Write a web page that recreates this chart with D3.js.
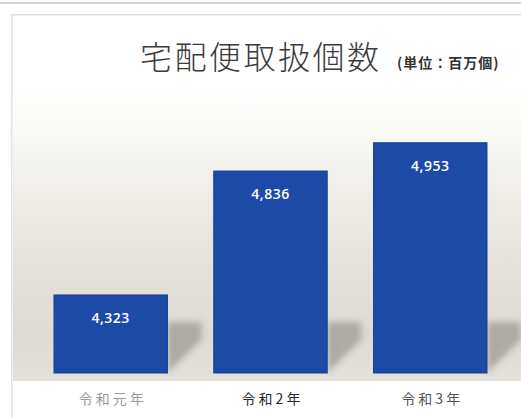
<!DOCTYPE html>
<html>
<head>
<meta charset="utf-8">
<script src="https://cdn.jsdelivr.net/npm/d3@7"></script>
<style>
  html, body { margin: 0; padding: 0; background: #fff; }
  svg { display: block; }
</style>
</head>
<body>
<div id="chart"></div>
<script>
const categories = ["令和元年", "令和2年", "令和3年"];
const values = [4323, 4836, 4953];
const labelColours = ["#9a9a9a", "#2a2a2a", "#555555"];
const yDomain = [4000, 5130];

const width = 521;
const height = 418;
const jp = "'Noto Sans CJK JP', 'Noto Sans', sans-serif";

const svg = d3.select("#chart")
  .append("svg")
  .attr("width", width)
  .attr("height", height);

const defs = svg.append("defs");

// background wash, white at top going to a warm grey
const grad = defs.append("linearGradient")
  .attr("id", "bg")
  .attr("x1", 0).attr("y1", 0).attr("x2", 0).attr("y2", 1);
[[0, "#ffffff"], [0.15, "#fafaf7"], [0.35, "#efeee9"], [0.6, "#e4e2db"], [0.85, "#dddbd3"], [1, "#e3e1da"]]
  .forEach(s => grad.append("stop").attr("offset", s[0]).attr("stop-color", s[1]));

defs.append("filter")
  .attr("id", "blur")
  .attr("x", "-50%").attr("y", "-50%").attr("width", "200%").attr("height", "200%")
  .append("feGaussianBlur")
  .attr("stdDeviation", 3);

// frame lines
svg.append("rect").attr("x", 0).attr("y", 2).attr("width", width).attr("height", 2).attr("fill", "#d6d6d6");
svg.append("rect").attr("x", 11).attr("y", 14).attr("width", width - 11).attr("height", 1.5).attr("fill", "#dcdcdc");
svg.append("rect").attr("x", 11).attr("y", 14).attr("width", 1.5).attr("height", height - 14).attr("fill", "#e2e2e2");

svg.append("rect")
  .attr("x", 13).attr("y", 85)
  .attr("width", width - 13).attr("height", 296)
  .attr("fill", "url(#bg)");

const x = d3.scaleBand()
  .domain(categories)
  .range([54, 487])
  .paddingInner(0.29)
  .paddingOuter(0);

const y = d3.scaleLinear()
  .domain(yDomain)
  .range([373, 100]);

const data = categories.map((c, i) => ({ cat: c, value: values[i], colour: labelColours[i] }));

// cast shadows to the right of each bar
svg.selectAll("path.shadow")
  .data(data)
  .enter()
  .append("path")
  .attr("class", "shadow")
  .attr("d", d => {
    const x1 = x(d.cat) + x.bandwidth();
    const top = Math.max(y(d.value) + 18, 322);
    const w = Math.min(34, 373 - top);
    return `M${x1},${top} L${x1 + w},${top} L${x1 + w},${top + (373 - top) * 0.35} L${x1},373 Z`;
  })
  .attr("fill", "#9d9b93")
  .attr("opacity", 0.75)
  .attr("filter", "url(#blur)");

svg.selectAll("rect.bar")
  .data(data)
  .enter()
  .append("rect")
  .attr("class", "bar")
  .attr("x", d => x(d.cat))
  .attr("y", d => y(d.value))
  .attr("width", x.bandwidth())
  .attr("height", d => y(yDomain[0]) - y(d.value))
  .attr("fill", "#1d4aa6")
  .attr("stroke", "#183f93")
  .attr("stroke-width", 1);

svg.selectAll("text.val")
  .data(data)
  .enter()
  .append("text")
  .attr("class", "val")
  .attr("x", d => x(d.cat) + x.bandwidth() / 2)
  .attr("y", d => y(d.value) + 28)
  .attr("text-anchor", "middle")
  .style("font-family", "'Open Sans', 'DejaVu Sans', sans-serif")
  .style("font-size", "14px")
  .style("font-weight", "600")
  .style("letter-spacing", "0.5px")
  .attr("fill", "#ffffff")
  .text(d => d3.format(",")(d.value));

svg.selectAll("text.cat")
  .data(data)
  .enter()
  .append("text")
  .attr("class", "cat")
  .attr("x", d => x(d.cat) + x.bandwidth() / 2 + 2)
  .attr("y", 404)
  .attr("text-anchor", "middle")
  .style("font-family", jp)
  .style("font-size", "14px")
  .style("letter-spacing", "3px")
  .attr("fill", d => d.colour)
  .text(d => d.cat);

// title
svg.append("text")
  .attr("x", 140)
  .attr("y", 69)
  .style("font-family", jp)
  .style("font-size", "32px")
  .style("font-weight", "300")
  .style("letter-spacing", "2.5px")
  .attr("fill", "#3a3a3a")
  .text("宅配便取扱個数");

svg.append("text")
  .attr("x", 397)
  .attr("y", 68)
  .style("font-family", jp)
  .style("font-size", "14px")
  .style("font-weight", "bold")
  .style("letter-spacing", "1px")
  .attr("fill", "#333333")
  .text("(単位：百万個)");
</script>
</body>
</html>
